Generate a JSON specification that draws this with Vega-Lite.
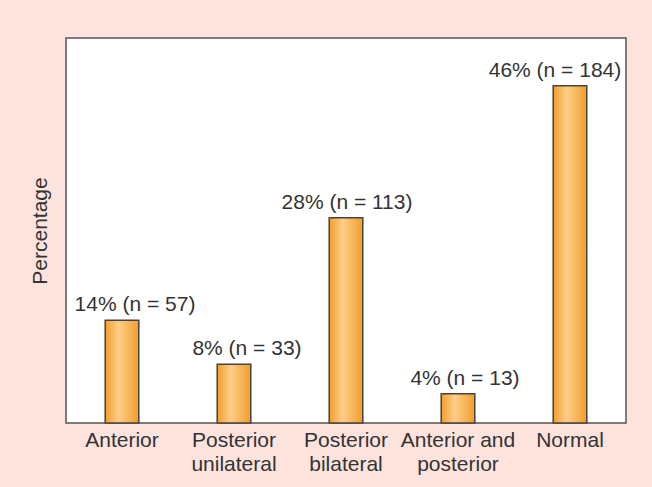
{
  "$schema": "https://vega.github.io/schema/vega-lite/v6.json",
  "width": 560,
  "height": 385,
  "autosize": {"type": "none"},
  "padding": {"left": 66, "top": 38, "right": 26, "bottom": 64},
  "background": "#fde3dd",
  "config": {
    "font": "Liberation Sans",
    "view": {"fill": "white", "stroke": "#555555", "strokeWidth": 1.5}
  },
  "data": {
    "values": [
      {"category": "Anterior", "pct": 14, "n": 57, "label": "14% (n = 57)"},
      {"category": "Posterior unilateral", "pct": 8, "n": 33, "label": "8% (n = 33)"},
      {"category": "Posterior bilateral", "pct": 28, "n": 113, "label": "28% (n = 113)"},
      {"category": "Anterior and posterior", "pct": 4, "n": 13, "label": "4% (n = 13)"},
      {"category": "Normal", "pct": 46, "n": 184, "label": "46% (n = 184)"}
    ]
  },
  "encoding": {
    "x": {
      "field": "category",
      "type": "nominal",
      "sort": null,
      "scale": {"paddingInner": 0.7, "paddingOuter": 0.35},
      "axis": {
        "title": null,
        "domain": false,
        "ticks": false,
        "labelAngle": 0,
        "labelFontSize": 21,
        "labelColor": "#333333",
        "labelPadding": 6,
        "labelLineHeight": 24,
        "labelExpr": "datum.value == 'Anterior and posterior' ? ['Anterior and', 'posterior'] : split(datum.value, ' ')"
      }
    },
    "y": {
      "field": "pct",
      "type": "quantitative",
      "scale": {"domain": [0, 52.5], "nice": false},
      "axis": {
        "title": "Percentage",
        "titleFont": "Liberation Sans",
        "titleFontSize": 21,
        "titleFontWeight": "normal",
        "titleColor": "#333333",
        "titlePadding": 16,
        "labels": false,
        "ticks": false,
        "domain": false,
        "grid": false
      }
    }
  },
  "layer": [
    {
      "mark": {
        "type": "bar",
        "stroke": "#444444",
        "strokeWidth": 1.5,
        "color": {
          "gradient": "linear",
          "x1": 0, "x2": 1, "y1": 0, "y2": 0,
          "stops": [
            {"offset": 0, "color": "#f59c2a"},
            {"offset": 0.4, "color": "#fdcf8a"},
            {"offset": 1, "color": "#f59c2a"}
          ]
        }
      }
    },
    {
      "transform": [{"filter": "datum.category == 'Anterior' || datum.category == 'Posterior unilateral'"}],
      "mark": {"type": "text", "fontSize": 21, "color": "#333333", "baseline": "alphabetic", "dy": -9, "dx": 13},
      "encoding": {"text": {"field": "label"}}
    },
    {
      "transform": [{"filter": "datum.category == 'Posterior bilateral'"}],
      "mark": {"type": "text", "fontSize": 21, "color": "#333333", "baseline": "alphabetic", "dy": -9, "dx": 1},
      "encoding": {"text": {"field": "label"}}
    },
    {
      "transform": [{"filter": "datum.category == 'Anterior and posterior'"}],
      "mark": {"type": "text", "fontSize": 21, "color": "#333333", "baseline": "alphabetic", "dy": -9, "dx": 7},
      "encoding": {"text": {"field": "label"}}
    },
    {
      "transform": [{"filter": "datum.category == 'Normal'"}],
      "mark": {"type": "text", "fontSize": 21, "color": "#333333", "baseline": "alphabetic", "dy": -9, "dx": -15},
      "encoding": {"text": {"field": "label"}}
    }
  ]
}
